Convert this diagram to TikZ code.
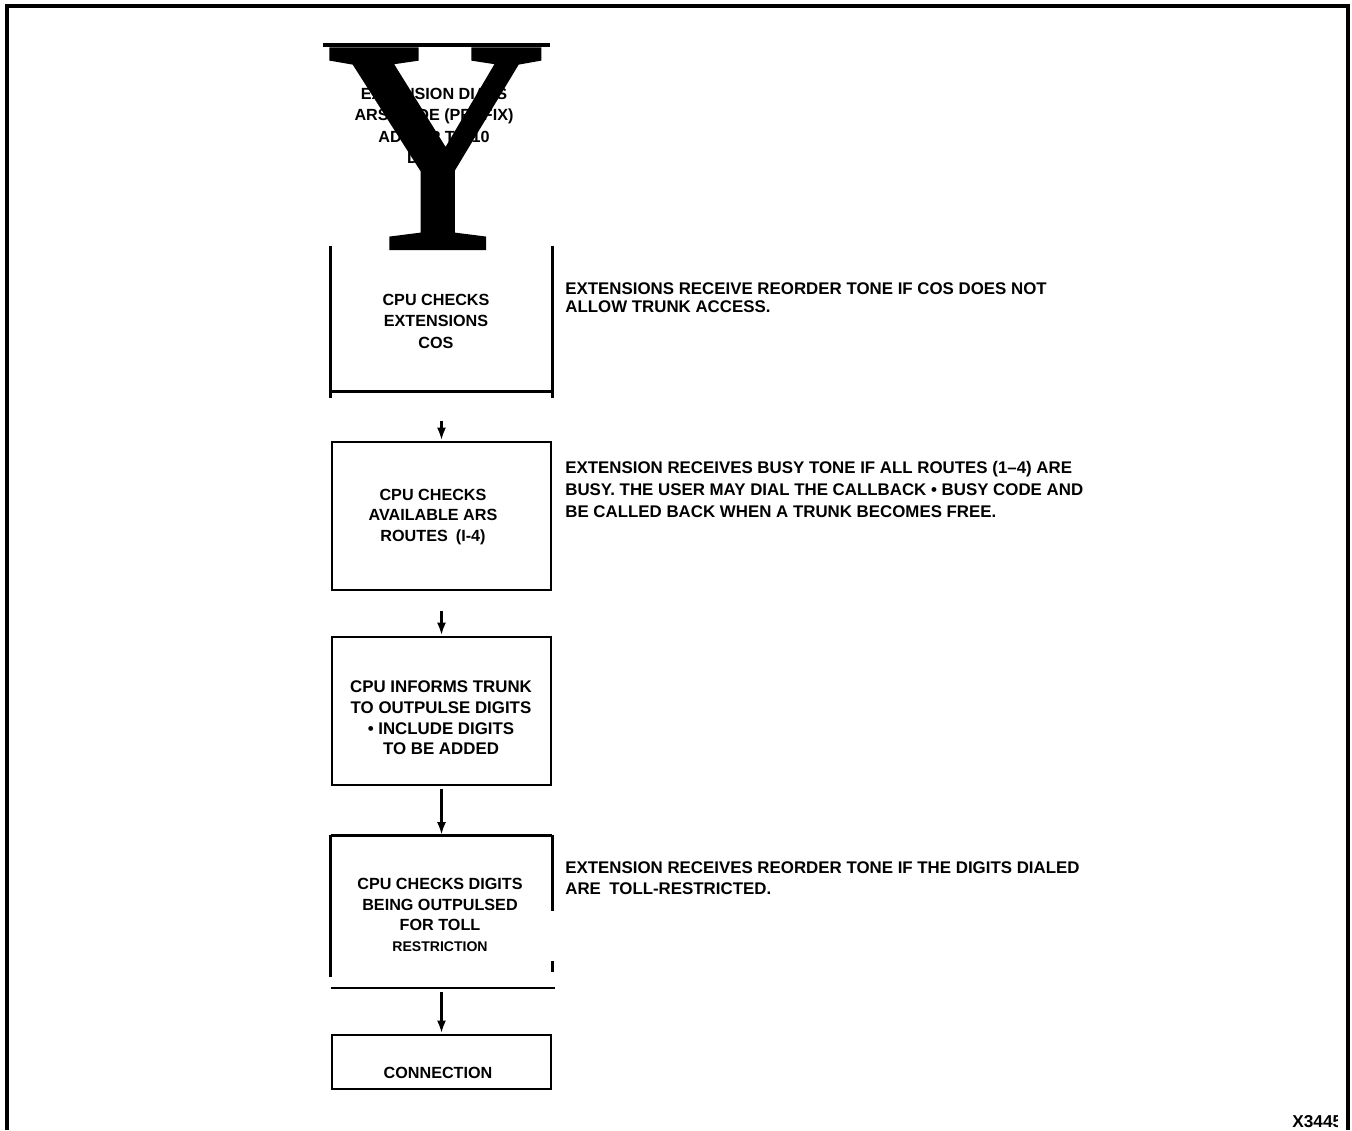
\documentclass[tikz,border=0pt]{standalone}
\usepackage{fontspec}
\setmainfont{Liberation Sans}
\newfontfamily\glyphfont[FakeBold=2]{Liberation Serif}
\usetikzlibrary{arrows.meta,positioning,calc}

\begin{document}
\begin{tikzpicture}[
    x=0.02cm, y=-0.02cm,
    frame/.style={line width=2.3pt},
    edge/.style={line width=1.6pt},
    stepbox/.style={rectangle, draw=black, line width=1.6pt, minimum width=4.38cm,
                    inner sep=0pt},
    openbox/.style={stepbox, draw=none},
    boxtext/.style={font=\fontsize{9.2}{12.2}\selectfont\bfseries, align=center, inner sep=0pt},
    note/.style={font=\fontsize{9.6}{12}\selectfont\bfseries, align=left, anchor=north west,
                 inner sep=0pt},
    flow/.style={-{Latex[length=2.6mm,width=1.8mm]}, line width=1.5pt}
]
\useasboundingbox (0,0) rectangle (1352,1130);
\fill[white] (0,0) rectangle (1352,1130);

% outer frame, open at the bottom
\draw[frame] (7,1130) -- (7,6) -- (1348,6) -- (1348,1130);

% flow boxes
\node[openbox, minimum width=4.5cm, minimum height=4.02cm] (dial) at (436.5,146.5) {};
\node[openbox, minimum height=2.86cm] (cos)    at (441.5,318.5) {};
\node[stepbox, minimum height=2.96cm] (routes) at (441.5,516) {};
\node[stepbox, minimum height=2.96cm] (inform) at (441.5,711) {};
\node[openbox, minimum height=3.0cm]  (toll)   at (441.5,911.5) {};
\node[stepbox, minimum height=1.08cm] (conn)   at (441.5,1062) {};

\draw[frame] (dial.north west) -- (dial.north east);
\draw[edge] (cos.north west) -- ($(cos.south west)+(0,7)$)
    (cos.north east) -- ($(cos.south east)+(0,7)$)
    (cos.south west) -- (cos.south east);
\draw[edge] (toll.north west) -- (toll.north east)
    (toll.north west) -- ($(toll.south west)+(0,-11)$)
    (toll.north east) -- ($(toll.north east)+(0,76)$)
    ($(toll.north east)+(0,126)$) -- ($(toll.north east)+(0,137)$)
    (toll.south west) -- ($(toll.south east)+(3,0)$);

% box texts
\node[boxtext] (t1) at (434,126) {EXTENSION DIALS\\ARS CODE (PREFIX)\\ADD UP TO 10\\DIGITS};
\node[boxtext] (t2) at (436,321) {CPU CHECKS\\EXTENSIONS\\COS};
\node[boxtext, font=\fontsize{9.2}{11.8}\selectfont\bfseries] (t3) at (433,517)
    {CPU CHECKS\\AVAILABLE ARS\\ROUTES\enspace(I-4)};
\node[boxtext, font=\fontsize{9.6}{11.8}\selectfont\bfseries] (t4) at (441,718)
    {CPU INFORMS TRUNK\\TO OUTPULSE DIGITS\\\textbullet\ INCLUDE DIGITS\\TO BE ADDED};
\node[boxtext, font=\fontsize{9.2}{11.8}\selectfont\bfseries] (t5) at (440,915)
    {CPU CHECKS DIGITS\\BEING OUTPULSED\\FOR TOLL\\{\fontsize{8}{10}\selectfont RESTRICTION}};
\node[boxtext] (t6) at (438,1073) {CONNECTION};

% side remarks
\node[note, font=\fontsize{9.6}{10.4}\selectfont\bfseries] (n1) at (565,282)
    {EXTENSIONS RECEIVE REORDER TONE IF COS DOES NOT\\ALLOW TRUNK ACCESS.};
\node[note, font=\fontsize{9.6}{12.5}\selectfont\bfseries] (n2) at (565,461)
    {EXTENSION RECEIVES BUSY TONE IF ALL ROUTES (1--4) ARE\\
     BUSY. THE USER MAY DIAL THE CALLBACK \textbullet\ BUSY CODE AND\\
     BE CALLED BACK WHEN A TRUNK BECOMES FREE.};
\node[note, font=\fontsize{9.6}{11.9}\selectfont\bfseries] (n3) at (565,861)
    {EXTENSION RECEIVES REORDER TONE IF THE DIGITS DIALED\\ARE\enspace TOLL-RESTRICTED.};

% connectors
\draw[flow, shorten <=0.6cm] (cos) -- (routes);
\draw[flow, shorten <=0.4cm] (routes) -- (inform);
\draw[flow, shorten <=0.06cm] (inform) -- (toll);
\draw[flow, shorten <=0.08cm] (toll) -- (conn);

% big letter over the first box
\node[font=\glyphfont\fontsize{171}{171}\selectfont, inner sep=0pt, anchor=base] (bigY)
    at (437.5,247) {Y};

\begin{scope}
\clip (1280,1100) rectangle (1337,1130);
\node[font=\fontsize{9.8}{11}\selectfont\bfseries, anchor=west, inner sep=0pt] (fig)
    at (1292,1122) {X3445};
\end{scope}
\end{tikzpicture}
\end{document}
